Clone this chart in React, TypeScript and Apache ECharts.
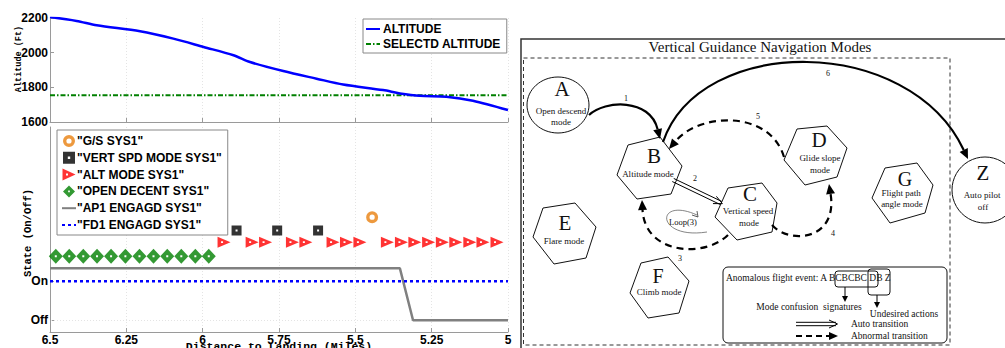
import React, { useEffect, useRef } from 'react';
import * as echarts from 'echarts';

// ---------- data (left charts) ----------
const distanceTicks = ['6.5', '6.25', '6', '5.75', '5.5', '5.25', '5'];
const altitudeDistance = [6.5, 6.413, 6.347, 6.205, 6.096, 5.997, 5.899, 5.845, 5.736, 5.627, 5.54, 5.409, 5.354, 5.289, 5.202, 5.115, 5.0];
const altitudeFt = [2205, 2183, 2158, 2123, 2081, 2033, 1985, 1946, 1894, 1850, 1816, 1784, 1765, 1751, 1746, 1723, 1669];
const selectedAltitudeFt = [1755, 1755];
const selectedAltitudeDistance = [6.5, 5.0];

const stateLabels = ['Off', 'On'];
const gsDistance = [5.445];
const gsLevel = 2.64;
const vertSpdDistance = [5.889, 5.756, 5.622];
const vertSpdLevel = 2.3;
const altModeDistance = [5.93, 5.838, 5.794, 5.706, 5.662, 5.573, 5.529, 5.485, 5.395, 5.349, 5.305, 5.26, 5.215, 5.171, 5.125, 5.082, 5.036];
const altModeLevel = 2.0;
const openDescentDistance = [6.481, 6.437, 6.391, 6.346, 6.3, 6.253, 6.207, 6.161, 6.116, 6.07, 6.024, 5.98];
const openDescentLevel = 1.64;
const ap1Distance = [6.5, 5.354, 5.311, 5.0];
const ap1State = [1.33, 1.33, 0, 0];
const fd1Distance = [6.5, 5.0];
const fd1State = [1, 1];

const seriesNames = ['"G/S SYS1"', '"VERT SPD MODE SYS1"', '"ALT MODE SYS1"', '"OPEN DECENT SYS1"', '"AP1 ENGAGD SYS1"', '"FD1 ENGAGD SYS1"'];
const lineSeriesNames = ['ALTITUDE', 'SELECTD ALTITUDE', seriesNames[4], seriesNames[5]];

// ---------- symbols ----------
const ringSym = 'path://M6,0 A6,6 0 1,1 6,12 A6,6 0 1,1 6,0 Z M6,3.4 A2.6,2.6 0 1,0 6,8.6 A2.6,2.6 0 1,0 6,3.4 Z';
const squareSym = 'path://M0,0 L10,0 L10,10 L0,10 Z M4,4 L4,6 L6,6 L6,4 Z';
const triSym = 'path://M0,0 L13,6 L0,12 Z M3.5,5 L3.5,7 L5.5,7 L5.5,5 Z';
const diamondSym = 'path://M7,0 L14,7 L7,14 L0,7 Z M6,6 L6,8 L8,8 L8,6 Z';

const SANS = '"Liberation Sans", Arial, sans-serif';
const MONO = '"Liberation Mono", "DejaVu Sans Mono", monospace';
const SERIF = '"Liberation Serif", "Times New Roman", serif';

// ---------- diagram helpers ----------
function arrowHead(tx: number, ty: number, fx: number, fy: number, len = 9, half = 4.5) {
  const dx = tx - fx, dy = ty - fy;
  const d = Math.hypot(dx, dy) || 1;
  const ux = dx / d, uy = dy / d;
  const bx = tx - ux * len, by = ty - uy * len;
  return [[tx, ty], [bx - uy * half, by + ux * half], [bx + uy * half, by - ux * half]];
}
function txt(x: number, y: number, text: string, size: number, align = 'center') {
  return {
    type: 'text', x, y, z: 20,
    style: { text, font: `${size}px ${SERIF}`, fill: '#111', align, verticalAlign: 'middle' },
  };
}
function hex(points: number[][]) {
  return { type: 'polygon', z: 10, shape: { points }, style: { fill: 'rgba(0,0,0,0)', stroke: '#111', lineWidth: 1 } };
}
function curveArrow(p0: number[], p1: number[], p2: number[], p3: number[], dashed: boolean, width: number) {
  const ah = arrowHead(p3[0], p3[1], p2[0], p2[1], 10, 4.5);
  const bx = (ah[1][0] + ah[2][0]) / 2, by = (ah[1][1] + ah[2][1]) / 2;
  return [
    {
      type: 'bezierCurve', z: 12,
      shape: { x1: p0[0], y1: p0[1], cpx1: p1[0], cpy1: p1[1], cpx2: p2[0], cpy2: p2[1], x2: bx, y2: by },
      style: { stroke: '#000', lineWidth: width, fill: null, lineDash: dashed ? [7, 5] : null },
    },
    { type: 'polygon', z: 12, shape: { points: ah }, style: { fill: '#000' } },
  ];
}
function doubleArrow(x1: number, y1: number, x2: number, y2: number, gap = 1.7) {
  const dx = x2 - x1, dy = y2 - y1;
  const d = Math.hypot(dx, dy);
  const ux = dx / d, uy = dy / d;
  const px = -uy * gap, py = ux * gap;
  const wing = 7;
  return [
    { type: 'line', z: 12, shape: { x1: x1 + px, y1: y1 + py, x2: x2 + px, y2: y2 + py }, style: { stroke: '#000', lineWidth: 1 } },
    { type: 'line', z: 12, shape: { x1: x1 - px, y1: y1 - py, x2: x2 - px, y2: y2 - py }, style: { stroke: '#000', lineWidth: 1 } },
    {
      type: 'polyline', z: 12,
      shape: {
        points: [
          [x2 - ux * wing - uy * 4, y2 - uy * wing + ux * 4],
          [x2 + ux * 1.5, y2 + uy * 1.5],
          [x2 - ux * wing + uy * 4, y2 - uy * wing - ux * 4],
        ],
      },
      style: { stroke: '#000', lineWidth: 1, fill: null },
    },
  ];
}

function buildDiagram() {
  const els: any[] = [];
  // frames
  els.push({ type: 'polyline', z: 5, shape: { points: [[521, 350], [521, 39], [1006, 39]] }, style: { stroke: '#333', lineWidth: 1.5, fill: null } });
  els.push({ type: 'rect', z: 5, shape: { x: 523.5, y: 58, width: 426.5, height: 287 }, style: { stroke: '#333', lineWidth: 1, fill: null, lineDash: [4, 3] } });
  els.push(txt(760, 47, 'Vertical Guidance Navigation Modes', 15));

  // nodes
  els.push({ type: 'ellipse', z: 10, shape: { cx: 558, cy: 105, rx: 31, ry: 28 }, style: { fill: 'rgba(0,0,0,0)', stroke: '#111', lineWidth: 1 } });
  els.push(txt(562, 89, 'A', 21), txt(561, 111, 'Open descend', 9), txt(561, 122, 'mode', 9));

  els.push(hex([[628, 145], [660, 137], [682, 166], [671, 194], [637, 199], [617, 175]]));
  els.push(txt(654, 156, 'B', 21), txt(648, 174, 'Altitude mode', 9));

  els.push(hex([[728, 188], [762, 183], [777, 203], [772, 232], [737, 240], [715, 217]]));
  els.push(txt(750, 194, 'C', 21), txt(748, 211, 'Vertical speed', 9), txt(749, 223, 'mode', 9));

  els.push(hex([[797, 129], [827, 126], [847, 148], [837, 177], [805, 185], [784, 160]]));
  els.push(txt(819, 140, 'D', 21), txt(820, 158, 'Glide slope', 9), txt(820, 170, 'mode', 9));

  els.push(hex([[543, 208], [575, 203], [596, 227], [586, 258], [554, 264], [533, 237]]));
  els.push(txt(565, 223, 'E', 21), txt(564, 241, 'Flare mode', 9));

  els.push(hex([[641, 263], [668, 257], [689, 281], [679, 313], [648, 318], [630, 293]]));
  els.push(txt(658, 276, 'F', 20), txt(659, 292, 'Climb mode', 9));

  els.push(hex([[885, 168], [917, 163], [933, 185], [925, 213], [890, 223], [872, 198]]));
  els.push(txt(905, 179, 'G', 20), txt(901, 193, 'Flight path', 9), txt(902, 204, 'angle mode', 9));

  els.push({ type: 'circle', z: 10, shape: { cx: 985, cy: 190, r: 33 }, style: { fill: 'rgba(0,0,0,0)', stroke: '#111', lineWidth: 1 } });
  els.push(txt(983, 173, 'Z', 21), txt(982, 195, 'Auto pilot', 9), txt(983, 207, 'off', 9));

  // transitions
  els.push(...curveArrow([589, 115], [605, 100], [650, 98], [660, 139], false, 2.2));
  els.push(txt(626, 98, '1', 8));
  els.push(...curveArrow([663, 142], [700, 34], [909, 34], [968, 159], false, 2.2));
  els.push(txt(828, 73, '6', 8));
  els.push(...curveArrow([784, 157], [770, 110], [700, 112], [669, 149], true, 2.2));
  els.push(txt(758, 116, '5', 8));
  els.push(...curveArrow([728, 235], [705, 258], [645, 255], [642, 200], true, 2.2));
  els.push(txt(680, 258, '3', 8));
  els.push(...curveArrow([772, 225], [790, 245], [838, 240], [829, 184], true, 2.2));
  els.push(txt(833, 233, '4', 8));
  els.push(...doubleArrow(673, 180, 721, 203));
  els.push(txt(695, 178, '2', 8));

  // loop
  els.push({
    type: 'bezierCurve', z: 12,
    shape: { x1: 707, y1: 232, cpx1: 655, cpy1: 240, cpx2: 655, cpy2: 196, x2: 697, y2: 215 },
    style: { stroke: '#666', lineWidth: 0.8, fill: null },
  });
  els.push({ type: 'polyline', z: 12, shape: { points: [[692, 215], [698, 217], [697, 211]] }, style: { stroke: '#333', lineWidth: 0.8, fill: null } });
  els.push(txt(683, 222, 'Loop(3)', 8.5));

  // legend box
  els.push({ type: 'rect', z: 10, shape: { x: 723, y: 267, width: 224, height: 76, r: 5 }, style: { stroke: '#111', lineWidth: 1, fill: 'rgba(0,0,0,0)' } });
  els.push(txt(726, 278, 'Anomalous flight event: A BCBCBC DB Z', 9.5, 'left'));
  els.push({ type: 'rect', z: 11, shape: { x: 835, y: 271, width: 43, height: 16, r: 3 }, style: { stroke: '#111', lineWidth: 1, fill: null } });
  els.push({ type: 'rect', z: 11, shape: { x: 868, y: 269, width: 22, height: 26, r: 3 }, style: { stroke: '#111', lineWidth: 1, fill: null } });
  els.push({ type: 'line', z: 11, shape: { x1: 845, y1: 287, x2: 845, y2: 297 }, style: { stroke: '#000', lineWidth: 1 } });
  els.push({ type: 'polygon', z: 11, shape: { points: arrowHead(845, 302, 845, 290, 6, 3) }, style: { fill: '#000' } });
  els.push({ type: 'line', z: 11, shape: { x1: 877, y1: 295, x2: 877, y2: 303 }, style: { stroke: '#000', lineWidth: 1 } });
  els.push({ type: 'polygon', z: 11, shape: { points: arrowHead(877, 308, 877, 296, 6, 3) }, style: { fill: '#000' } });
  els.push(txt(809, 307, 'Mode confusion  signatures', 9.5));
  els.push(txt(904, 314, 'Undesired actions', 9.5));
  els.push(...doubleArrow(796, 324, 836, 324));
  els.push(txt(851, 324, 'Auto transition', 9.5, 'left'));
  els.push({ type: 'line', z: 11, shape: { x1: 796, y1: 336, x2: 829, y2: 336 }, style: { stroke: '#000', lineWidth: 2.2, lineDash: [6, 4] } });
  els.push({ type: 'polygon', z: 11, shape: { points: arrowHead(838, 336, 826, 336, 9, 4) }, style: { fill: '#000' } });
  els.push(txt(851, 336, 'Abnormal transition', 9.5, 'left'));
  return els;
}

const pairs = (xs: number[], ys: number[]) => xs.map((x, i) => [x, ys[i]]);
const level = (xs: number[], y: number) => xs.map((x) => [x, y]);
const legendItem = (name: string) => (lineSeriesNames.includes(name) ? { name, itemStyle: { opacity: 0 } } : { name });

export default function App() {
  const ref = useRef<HTMLDivElement>(null);
  useEffect(() => {
    if (!ref.current) return;
    const chart = echarts.init(ref.current, null, { renderer: 'svg' });
    const axisGray = '#9a9a9a';
    const labelFont = { fontFamily: SANS, fontWeight: 'bold', fontSize: 12, color: '#000' };
    const xBase = (grid: number) => ({
      gridIndex: grid, type: 'value', min: 5, max: 6.5, interval: 0.25, inverse: true,
      axisLine: { onZero: false, lineStyle: { color: axisGray, width: 1 } },
      axisTick: { inside: true, length: 4, lineStyle: { color: axisGray } },
      splitLine: { show: true, lineStyle: { color: '#e4e4e4', type: [1, 2] } },
    });
    const option: any = {
      animation: false,
      backgroundColor: '#fff',
      grid: [
        { left: 50, top: 18, width: 458, height: 104, containLabel: false, outerBoundsMode: 'none' },
        { left: 50, top: 127, width: 458, height: 205, containLabel: false, outerBoundsMode: 'none' },
      ],
      xAxis: [
        { ...xBase(0), axisLabel: { show: false } },
        {
          ...xBase(1),
          axisLabel: { ...labelFont, margin: 2, formatter: (v: number) => distanceTicks[Math.round((6.5 - v) / 0.25)] ?? '' },
          name: 'Distance to Landing (Miles)', nameLocation: 'middle', nameGap: 8, nameMoveOverlap: false,
          nameTextStyle: { fontFamily: MONO, fontSize: 11.5, fontWeight: 'bold', color: '#000' },
        },
      ],
      yAxis: [
        {
          gridIndex: 0, type: 'value', min: 1600, max: 2200, interval: 200,
          axisLine: { show: true, onZero: false, lineStyle: { color: axisGray } },
          axisTick: { show: true, inside: true, length: 4, lineStyle: { color: axisGray } },
          axisLabel: { ...labelFont, margin: 2, formatter: (v: number) => String(v) },
          splitLine: { show: false },
          name: 'Altitude (Ft)', nameLocation: 'middle', nameGap: 27, nameMoveOverlap: false,
          nameTextStyle: { fontFamily: MONO, fontSize: 8.5, fontWeight: 'bold', color: '#000', padding: [0, 0, 0, 22] },
        },
        {
          gridIndex: 1, type: 'value', min: -0.3, max: 4.95,
          axisLine: { show: true, onZero: false, lineStyle: { color: axisGray } },
          axisTick: { show: true, inside: true, length: 4, customValues: [0, 1], lineStyle: { color: axisGray } },
          axisLabel: { ...labelFont, margin: 2, customValues: [0, 1], formatter: (v: number) => stateLabels[Math.round(v)] ?? '' },
          splitLine: { show: false },
          name: 'State (On/Off)', nameLocation: 'middle', nameGap: 17, nameMoveOverlap: false,
          nameTextStyle: { fontFamily: MONO, fontSize: 10.5, fontWeight: 'bold', color: '#000', padding: [0, 0, 0, -7] },
        },
      ],
      legend: [
        {
          data: ['ALTITUDE', 'SELECTD ALTITUDE'].map(legendItem), orient: 'vertical', left: 363, top: 19,
          backgroundColor: '#fff', borderColor: '#888', borderWidth: 1, padding: [4, 6, 3, 2],
          itemWidth: 14, itemHeight: 10, itemGap: 3, selectedMode: false,
          textStyle: { ...labelFont, padding: [0, 0, 0, -2] },
        },
        {
          data: seriesNames.map(legendItem), orient: 'vertical', left: 57, top: 130,
          backgroundColor: '#fff', borderColor: '#888', borderWidth: 1, padding: [5, 6, 4, 4],
          itemWidth: 14, itemHeight: 12, itemGap: 4.8, selectedMode: false,
          textStyle: { ...labelFont, padding: [0, 0, 0, -4] },
        },
      ],
      series: [
        {
          name: 'ALTITUDE', type: 'line', xAxisIndex: 0, yAxisIndex: 0, symbol: 'none', smooth: 0.3,
          data: pairs(altitudeDistance, altitudeFt), lineStyle: { color: '#0000ff', width: 2.5 }, itemStyle: { color: '#0000ff' }, z: 4,
        },
        {
          name: 'SELECTD ALTITUDE', type: 'line', xAxisIndex: 0, yAxisIndex: 0, symbol: 'none',
          data: pairs(selectedAltitudeDistance, selectedAltitudeFt), lineStyle: { color: '#008000', width: 2, type: [5, 2, 1.5, 2] }, itemStyle: { color: '#008000' }, z: 3,
        },
        {
          name: seriesNames[0], type: 'scatter', xAxisIndex: 1, yAxisIndex: 1, symbol: ringSym, symbolSize: 12, symbolKeepAspect: true,
          data: level(gsDistance, gsLevel), itemStyle: { color: '#e8800e' }, z: 5,
        },
        {
          name: seriesNames[1], type: 'scatter', xAxisIndex: 1, yAxisIndex: 1, symbol: squareSym, symbolSize: 10, symbolKeepAspect: true,
          data: level(vertSpdDistance, vertSpdLevel), itemStyle: { color: '#000' }, z: 5,
        },
        {
          name: seriesNames[2], type: 'scatter', xAxisIndex: 1, yAxisIndex: 1, symbol: triSym, symbolSize: [13, 12], symbolKeepAspect: true,
          data: level(altModeDistance, altModeLevel), itemStyle: { color: '#ff0000' }, z: 5,
        },
        {
          name: seriesNames[3], type: 'scatter', xAxisIndex: 1, yAxisIndex: 1, symbol: diamondSym, symbolSize: [14, 15], symbolKeepAspect: true,
          data: level(openDescentDistance, openDescentLevel), itemStyle: { color: '#008000' }, z: 5,
        },
        {
          name: seriesNames[4], type: 'line', xAxisIndex: 1, yAxisIndex: 1, symbol: 'none',
          data: pairs(ap1Distance, ap1State), lineStyle: { color: '#808080', width: 2.5 }, itemStyle: { color: '#808080' }, z: 3,
          markLine: {
            silent: true, symbol: 'none', label: { show: false },
            lineStyle: { color: '#e4e4e4', type: [1, 2], width: 1 }, data: [{ yAxis: 0 }], z: 1,
          },
        },
        {
          name: seriesNames[5], type: 'line', xAxisIndex: 1, yAxisIndex: 1, symbol: 'none',
          data: pairs(fd1Distance, fd1State), lineStyle: { color: '#0000ff', width: 2.5, type: [3, 3] }, itemStyle: { color: '#0000ff' }, z: 3,
        },
      ],
      graphic: { elements: buildDiagram() },
    };
    chart.setOption(option);
    return () => chart.dispose();
  }, []);
  return <div ref={ref} style={{ position: 'fixed', left: 0, top: 0, width: 1005, height: 348, background: '#fff' }} />;
}
